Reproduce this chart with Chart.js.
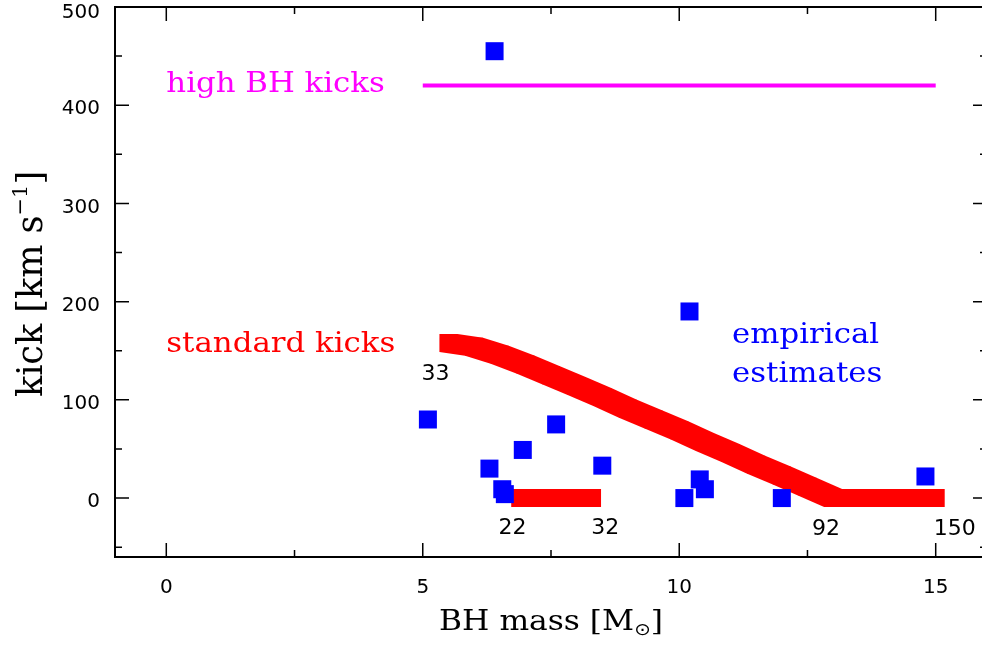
<!DOCTYPE html>
<html>
<head>
<meta charset="utf-8">
<script src="https://cdn.jsdelivr.net/npm/chart.js@4"></script>
<style>
  html, body { margin: 0; padding: 0; overflow: hidden; background: #fff; }
  canvas { display: block; }
</style>
</head>
<body>
<canvas id="chart" width="990" height="649"></canvas>
<script>
// empirical estimates: BH mass [Msun], kick [km/s]
const empMass = [6.4, 5.1, 6.3, 6.55, 6.6, 6.95, 7.6, 8.5, 10.1, 10.2, 10.4, 10.5, 12.0, 14.8];
const empKick = [455, 80, 30, 9, 4, 49, 75, 33, 0, 190, 19, 9, 0, 22];

// standard kicks, main branch
const stdMass = [5.5, 6.0, 6.5, 7.0, 7.5, 8.0, 8.5, 9.0, 9.5, 10.0, 10.5, 11.0, 11.5, 12.0, 12.5, 13.0, 15.0];
const stdKick = [158, 154, 146, 136, 125, 114, 103, 91, 80, 69, 57, 46, 34, 23, 11.5, 0, 0];

// standard kicks, low branch
const lowMass = [6.9, 8.3];
const lowKick = [0, 0];

// high BH kicks
const highMass = [5, 15];
const highKick = [420, 420];

const xTicks = [0, 5, 10, 15];
const xMinor = [2.5, 7.5, 12.5];
const yTicks = [0, 100, 200, 300, 400, 500];
const yMinor = [-50, 50, 150, 250, 350, 450];

const pairs = (xs, ys) => xs.map((x, i) => ({ x: x, y: ys[i] }));

// where the text goes (data coords)
const notes = [
  { text: '33', x: 5.25, y: 126 },
  { text: '22', x: 6.75, y: -31 },
  { text: '32', x: 8.56, y: -31 },
  { text: '92', x: 12.86, y: -31.5 },
  { text: '150', x: 15.37, y: -31.5 }
];
const words = [
  { text: 'high BH kicks', x: 0, y: 413, color: '#ff00ff' },
  { text: 'standard kicks', x: 0, y: 149, color: '#ff0000' },
  { text: 'empirical', x: 11.03, y: 158, color: '#0000ff' },
  { text: 'estimates', x: 11.03, y: 118.5, color: '#0000ff' }
];

const SERIF = '"DejaVu Serif"';
const SANS = '"DejaVu Sans"';

function hull(points) {
  const p = points.slice().sort((a, b) => a[0] - b[0] || a[1] - b[1]);
  const cross = (o, a, b) => (a[0] - o[0]) * (b[1] - o[1]) - (a[1] - o[1]) * (b[0] - o[0]);
  const lower = [], upper = [];
  for (const q of p) {
    while (lower.length >= 2 && cross(lower[lower.length - 2], lower[lower.length - 1], q) <= 0) lower.pop();
    lower.push(q);
  }
  for (const q of p.reverse()) {
    while (upper.length >= 2 && cross(upper[upper.length - 2], upper[upper.length - 1], q) <= 0) upper.pop();
    upper.push(q);
  }
  upper.pop(); lower.pop();
  return lower.concat(upper);
}

// text made of runs (for sub/superscripts), stretched sideways by sx
function drawRuns(ctx, runs, x, y, align, sx) {
  let total = 0;
  runs.forEach(r => { ctx.font = r.font; r.w = ctx.measureText(r.text).width * sx; total += r.w; });
  let cx = align === 'center' ? x - total / 2 : x;
  runs.forEach(r => {
    ctx.save();
    ctx.font = r.font;
    ctx.translate(cx, y + (r.dy || 0));
    ctx.scale(sx, 1);
    ctx.fillText(r.text, 0, 0);
    ctx.restore();
    cx += r.w;
  });
}

const framePlugin = {
  id: 'frame',
  beforeDatasetsDraw(chart) {
    // red bands: a square brush swept along the points
    const ctx = chart.ctx;
    chart.data.datasets.forEach((ds, i) => {
      if (!ds.brush) return;
      const pts = chart.getDatasetMeta(i).data;
      const h = ds.brush / 2;
      ctx.save();
      ctx.fillStyle = ds.brushColor;
      for (let k = 0; k < pts.length - 1; k++) {
        const corners = [];
        [pts[k], pts[k + 1]].forEach(p => {
          corners.push([p.x - h, p.y - h], [p.x + h, p.y - h], [p.x + h, p.y + h], [p.x - h, p.y + h]);
        });
        const hp = hull(corners);
        ctx.beginPath();
        hp.forEach((c, j) => j ? ctx.lineTo(c[0], c[1]) : ctx.moveTo(c[0], c[1]));
        ctx.closePath();
        ctx.fill();
      }
      ctx.restore();
    });
  },
  afterDraw(chart) {
    const ctx = chart.ctx;
    const { left, right, top, bottom } = chart.chartArea;
    const xs = chart.scales.x, ys = chart.scales.y;
    ctx.save();
    ctx.strokeStyle = '#000';
    ctx.lineWidth = 2;
    ctx.strokeRect(left, top, right - left, bottom - top);

    ctx.lineWidth = 1.5;
    ctx.beginPath();
    const xt = (v, len) => {
      const px = xs.getPixelForValue(v);
      ctx.moveTo(px, bottom); ctx.lineTo(px, bottom - len);
      ctx.moveTo(px, top); ctx.lineTo(px, top + len);
    };
    const yt = (v, len) => {
      const py = ys.getPixelForValue(v);
      ctx.moveTo(left, py); ctx.lineTo(left + len, py);
      ctx.moveTo(right, py); ctx.lineTo(right - len, py);
    };
    xs.ticks.forEach(t => xt(t.value, 14));
    xMinor.forEach(v => xt(v, 7));
    ys.ticks.forEach(t => yt(t.value, 14));
    yMinor.forEach(v => yt(v, 7));
    ctx.stroke();

    // tick labels
    ctx.fillStyle = '#000';
    ctx.font = '20px ' + SANS;
    ctx.textBaseline = 'middle';
    ctx.textAlign = 'center';
    xs.ticks.forEach(t => ctx.fillText(String(t.value), xs.getPixelForValue(t.value), bottom + 31));
    ctx.textAlign = 'right';
    ys.ticks.forEach(t => ctx.fillText(String(t.value), left - 15, Math.max(ys.getPixelForValue(t.value) + 4, top + 6)));

    // number notes
    ctx.font = '22px ' + SANS;
    ctx.textAlign = 'center';
    notes.forEach(n => ctx.fillText(n.text, xs.getPixelForValue(n.x), ys.getPixelForValue(n.y)));

    // coloured words
    ctx.textAlign = 'left';
    ctx.textBaseline = 'alphabetic';
    words.forEach(w => {
      ctx.fillStyle = w.color;
      drawRuns(ctx, [{ text: w.text, font: '28px ' + SERIF }], xs.getPixelForValue(w.x), ys.getPixelForValue(w.y), 'left', 1.1);
    });

    // axis titles
    ctx.fillStyle = '#000';
    drawRuns(ctx, [
      { text: 'BH mass [M', font: '27px ' + SERIF },
      { text: '\u2299', font: '17px ' + SANS, dy: 5 },
      { text: ']', font: '27px ' + SERIF }
    ], (left + right) / 2, bottom + 73, 'center', 1.16);

    ctx.save();
    ctx.translate(42, (top + bottom) / 2 + 2);
    ctx.rotate(-Math.PI / 2);
    drawRuns(ctx, [
      { text: 'kick [km s', font: '35px ' + SERIF },
      { text: '\u22121', font: '21px ' + SERIF, dy: -15 },
      { text: ']', font: '35px ' + SERIF }
    ], 0, 0, 'center', 1);
    ctx.restore();

    ctx.restore();
  }
};

new Chart(document.getElementById('chart'), {
  type: 'scatter',
  data: {
    datasets: [
      {
        label: 'empirical estimates',
        data: pairs(empMass, empKick),
        pointStyle: 'rect',
        pointRadius: 12.73,
        pointHoverRadius: 12.73,
        backgroundColor: '#0000ff',
        borderWidth: 0
      },
      {
        label: 'high BH kicks',
        type: 'line',
        data: pairs(highMass, highKick),
        borderColor: '#ff00ff',
        borderWidth: 4,
        pointRadius: 0,
        fill: false
      },
      {
        label: 'standard kicks',
        data: pairs(stdMass, stdKick),
        pointRadius: 0,
        brush: 18,
        brushColor: '#ff0000'
      },
      {
        label: 'standard kicks low',
        data: pairs(lowMass, lowKick),
        pointRadius: 0,
        brush: 18,
        brushColor: '#ff0000'
      }
    ]
  },
  options: {
    responsive: false,
    animation: false,
    events: [],
    layout: { autoPadding: false, padding: { top: 7, right: 3, left: 0, bottom: 0 } },
    plugins: { legend: { display: false }, tooltip: { enabled: false } },
    scales: {
      x: {
        type: 'linear',
        min: -1,
        max: 16,
        grid: { display: false, drawTicks: false },
        border: { display: false },
        ticks: { display: false },
        afterBuildTicks: s => { s.ticks = xTicks.map(v => ({ value: v })); },
        afterFit: s => { s.height = 92; }
      },
      y: {
        type: 'linear',
        min: -60,
        max: 500,
        grid: { display: false, drawTicks: false },
        border: { display: false },
        ticks: { display: false },
        afterBuildTicks: s => { s.ticks = yTicks.map(v => ({ value: v })); },
        afterFit: s => { s.width = 115; }
      }
    }
  },
  plugins: [framePlugin]
});
</script>
</body>
</html>
